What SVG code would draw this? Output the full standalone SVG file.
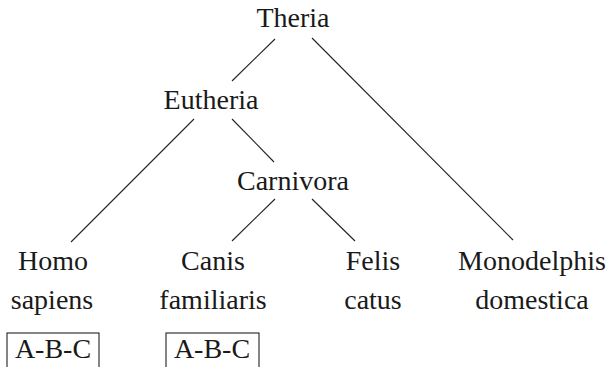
<svg xmlns="http://www.w3.org/2000/svg" width="609" height="367" viewBox="0 0 609 367">
  <style>
    text { font-family: "Liberation Serif", "DejaVu Serif", serif; font-size: 28px; fill: #1a1a1a; text-anchor: middle; }
    .edge { stroke: #222; stroke-width: 1.1; fill: none; }
    .box { fill: none; stroke: #222; stroke-width: 1.1; }
  </style>
  <rect width="609" height="367" fill="#ffffff"/>
  <!-- tree edges -->
  <g id="edges">
    <line class="edge" x1="275" y1="39" x2="232" y2="81"/>
    <line class="edge" x1="312" y1="38" x2="513" y2="240"/>
    <line class="edge" x1="194" y1="119" x2="71" y2="242"/>
    <line class="edge" x1="232" y1="119" x2="274" y2="162"/>
    <line class="edge" x1="275" y1="199" x2="232" y2="241"/>
    <line class="edge" x1="312" y1="199" x2="355" y2="241"/>
  </g>
  <g id="theria"><text x="293" y="27">Theria</text></g>
  <g id="eutheria"><text x="211" y="109">Eutheria</text></g>
  <g id="carnivora"><text x="293" y="190">Carnivora</text></g>
  <g id="homo-sapiens">
    <text x="53" y="270">Homo</text>
    <text x="52" y="309">sapiens</text>
    <rect class="box" x="7" y="333" width="92" height="40"/>
    <text x="53" y="358">A-B-C</text>
  </g>
  <g id="canis-familiaris">
    <text x="213" y="270">Canis</text>
    <text x="213" y="309">familiaris</text>
    <rect class="box" x="166" y="333" width="93" height="40"/>
    <text x="212" y="358">A-B-C</text>
  </g>
  <g id="felis-catus">
    <text x="373" y="270">Felis</text>
    <text x="373" y="309">catus</text>
  </g>
  <g id="monodelphis-domestica">
    <text x="532" y="270">Monodelphis</text>
    <text x="532" y="309">domestica</text>
  </g>
</svg>
